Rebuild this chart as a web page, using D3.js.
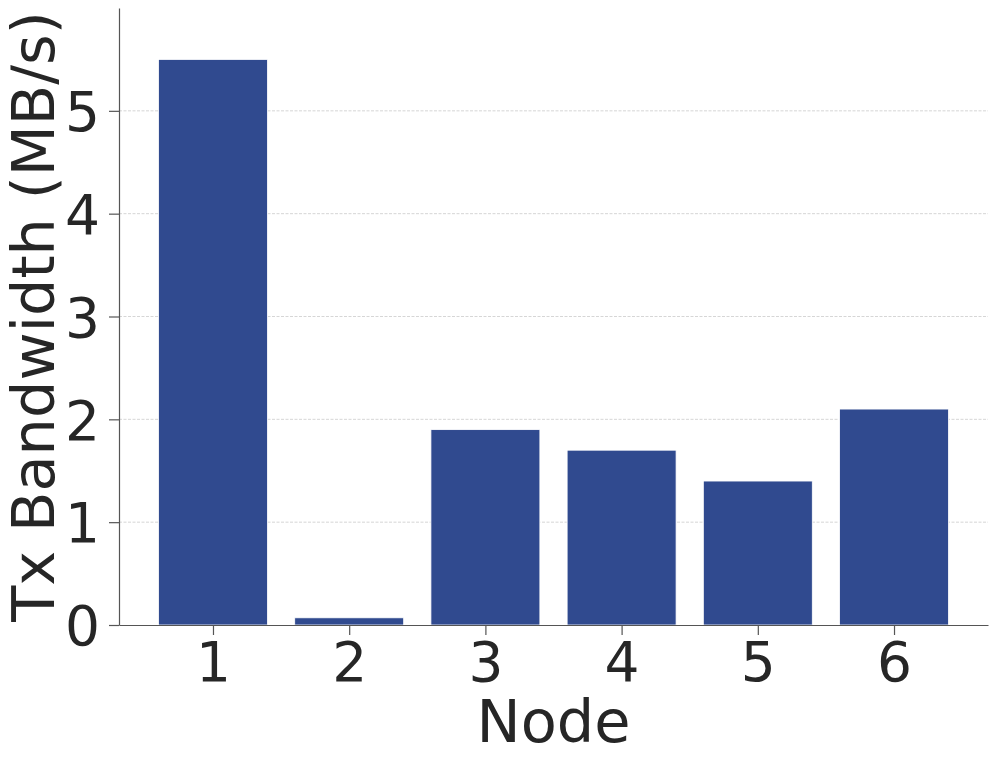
<!DOCTYPE html>
<html>
<head>
<meta charset="utf-8">
<script src="https://cdn.jsdelivr.net/npm/d3@7"></script>
<style>
  body { margin: 0; background: #fff; }
  svg { display: block; }
  text { font-family: "DejaVu Sans", sans-serif; fill: #262626; }
</style>
</head>
<body>
<div id="wrapper"></div>
<script>
// data
const nodes = [1, 2, 3, 4, 5, 6]
const txBandwidth = [5.5, 0.07, 1.9, 1.7, 1.4, 2.1]
const yTicks = [0, 1, 2, 3, 4, 5]

const width = 997, height = 762
const margin = { top: 8, right: 9, bottom: 137, left: 119 }
const barColor = '#304a8f'
const axisColor = '#555555'

const svg = d3.select('#wrapper').append('svg')
    .attr('width', width)
    .attr('height', height)

const innerW = width - margin.left - margin.right
const innerH = height - margin.top - margin.bottom

const bounds = svg.append('g')
    .attr('transform', `translate(${margin.left},${margin.top})`)

// matplotlib style: bars of width 0.8, 5% margins
const x = d3.scaleLinear().domain([0.31, 6.69]).range([0, innerW])
const y = d3.scaleLinear().domain([0, 6]).range([innerH, 0])

// grid
bounds.selectAll('.grid')
    .data(yTicks.filter(d => d > 0))
    .enter().append('line')
    .attr('class', 'grid')
    .attr('x1', 0).attr('x2', innerW)
    .attr('y1', d => y(d)).attr('y2', d => y(d))
    .attr('stroke', '#cccccc')
    .attr('stroke-width', 0.8)
    .attr('stroke-dasharray', '3,1.5')

// bars
bounds.selectAll('.bar')
    .data(nodes)
    .enter().append('rect')
    .attr('class', 'bar')
    .attr('x', (d) => x(d - 0.4))
    .attr('width', x(0.8) - x(0))
    .attr('y', (d, i) => y(txBandwidth[i]))
    .attr('height', (d, i) => innerH - y(txBandwidth[i]))
    .attr('fill', barColor)
    .attr('stroke', '#ffffff')
    .attr('stroke-width', 0.8)

// axes
const fmt = d3.format('d')
const xAxis = bounds.append('g')
    .attr('transform', `translate(0,${innerH})`)
    .call(d3.axisBottom(x).tickValues(nodes).tickFormat(fmt).tickSize(10).tickPadding(4).tickSizeOuter(0))
const yAxis = bounds.append('g')
    .call(d3.axisLeft(y).tickValues(yTicks).tickFormat(fmt).tickSize(10).tickPadding(9).tickSizeOuter(0))

;[xAxis, yAxis].forEach(a => {
    a.select('.domain').attr('stroke', axisColor).attr('stroke-width', 1.2)
    a.selectAll('.tick line').attr('stroke', axisColor).attr('stroke-width', 1.2)
    a.selectAll('.tick text')
        .attr('fill', '#262626')
        .style('font-family', '"DejaVu Sans", sans-serif')
        .style('font-size', '55px')
})
yAxis.selectAll('.tick text').attr('dy', '0.36em')
xAxis.selectAll('.tick text').attr('dy', '0.76em')

// labels
svg.append('text')
    .attr('x', margin.left + innerW / 2)
    .attr('y', 742)
    .attr('text-anchor', 'middle')
    .style('font-size', '59px')
    .text('Node')

svg.append('text')
    .attr('transform', `translate(54,${margin.top + innerH / 2}) rotate(-90)`)
    .attr('text-anchor', 'middle')
    .style('font-size', '59px')
    .text('Tx Bandwidth (MB/s)')
</script>
</body>
</html>
